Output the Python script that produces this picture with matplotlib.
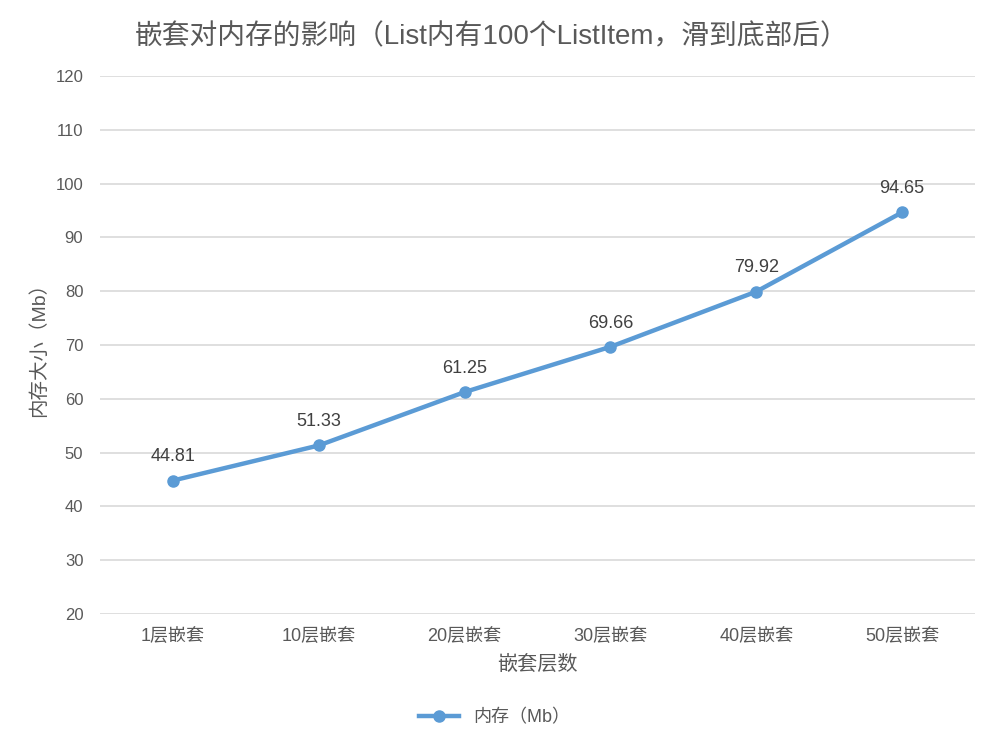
import matplotlib
matplotlib.use('Agg')
from matplotlib import pyplot as plt

plt.rcParams['font.family'] = ['Liberation Sans', 'Noto Sans CJK SC', 'DejaVu Sans']

categorias = ['1层嵌套', '10层嵌套', '20层嵌套', '30层嵌套', '40层嵌套', '50层嵌套']
memoria = [44.81, 51.33, 61.25, 69.66, 79.92, 94.65]
yticks = [20, 30, 40, 50, 60, 70, 80, 90, 100, 110, 120]

cinza = '#595959'
azul = '#5B9BD5'

fig = plt.figure(figsize=(10, 7.5), dpi=100)
ax = fig.add_axes([0.10, 0.1813, 0.875, 0.7174])

x = list(range(len(categorias)))
ax.plot(x, memoria, color=azul, linewidth=3.2, marker='o', markersize=8, label='内存（Mb）')
for xi, v in zip(x, memoria):
    ax.annotate(f'{v:.2f}', (xi, v), textcoords='offset points', xytext=(0, 11),
                ha='center', va='bottom', fontsize=13, color='#404040')

ax.set_xlim(-0.5, len(categorias) - 0.5)
ax.set_ylim(20, 120)
ax.set_yticks(yticks)
ax.set_xticks(x)
ax.set_xticklabels(categorias)
ax.tick_params(axis='both', length=0, labelsize=12, colors=cinza)
ax.tick_params(axis='x', pad=10, labelsize=13)
ax.tick_params(axis='y', pad=12)
ax.grid(axis='y', color='#D9D9D9', linewidth=1.2)
ax.set_axisbelow(True)
for s in ax.spines.values():
    s.set_visible(False)

ax.set_xlabel('嵌套层数', fontsize=14.5, color=cinza, labelpad=7)
ax.set_ylabel('内存大小（Mb）', fontsize=14, color=cinza, labelpad=5)

fig.text(0.492, 0.951, '嵌套对内存的影响（List内有100个ListItem，滑到底部后）',
         ha='center', va='center', fontsize=20, color=cinza)

fig.legend(loc='center', bbox_to_anchor=(0.495, 0.043), frameon=False,
           fontsize=13, labelcolor=cinza, handlelength=2.2)

fig.savefig('out.png', dpi=100)
